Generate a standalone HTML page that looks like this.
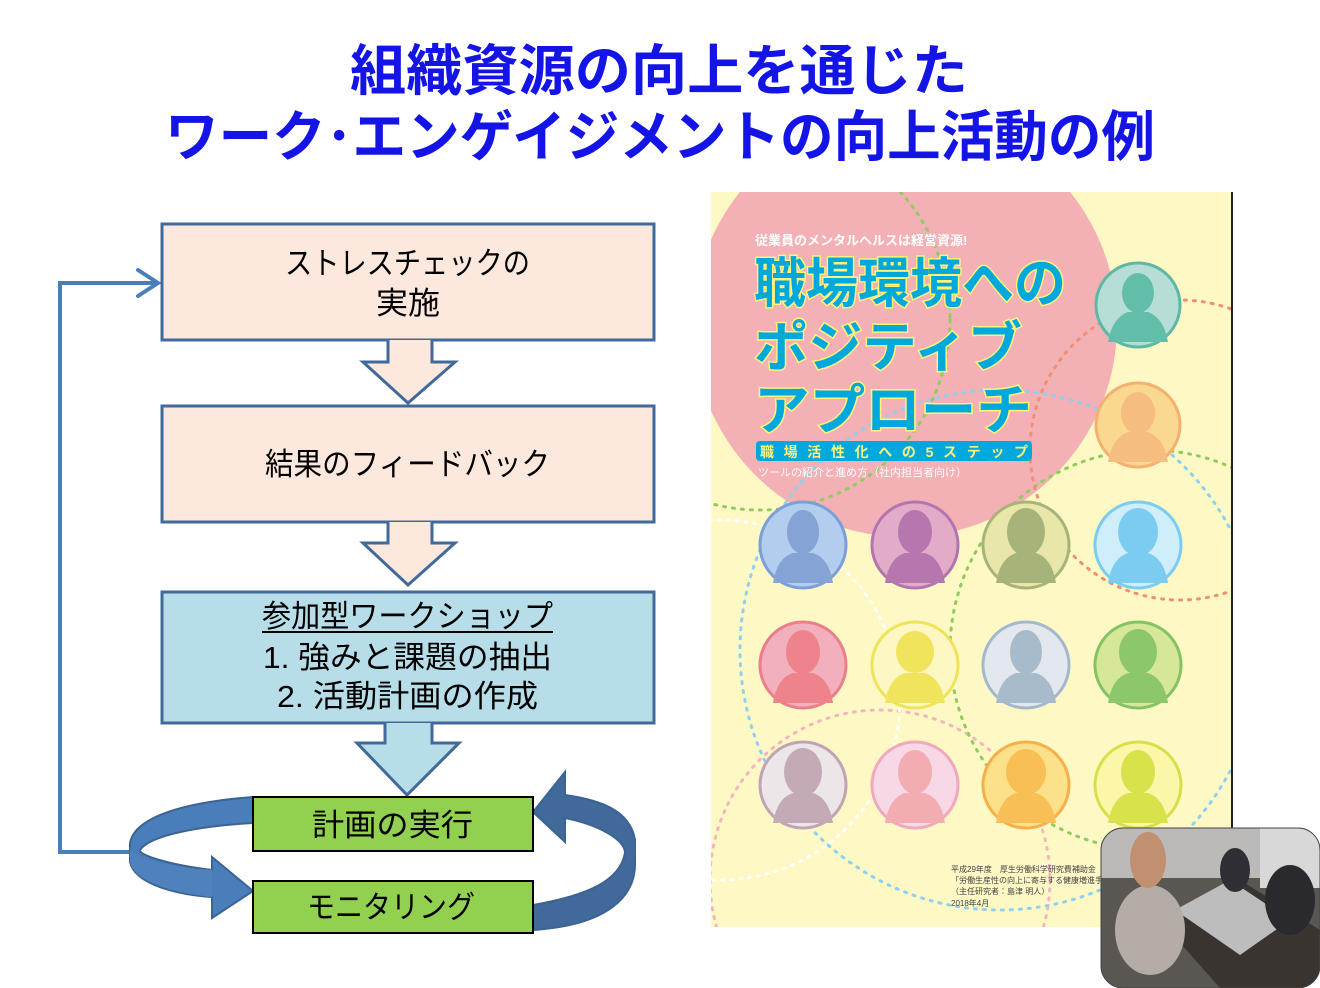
<!DOCTYPE html>
<html><head><meta charset="utf-8"><style>
html,body{margin:0;padding:0;background:#fff;overflow:hidden;width:1320px;height:988px;}
body{position:relative;font-family:"Liberation Sans","Noto Sans CJK JP",sans-serif;}
svg{display:block;}
.t{position:absolute;left:0;width:1320px;text-align:center;color:#1414e6;font-weight:bold;font-size:55px;line-height:60px;}
</style></head><body>
<svg width="1320" height="988" style="position:absolute;left:0;top:0" xmlns="http://www.w3.org/2000/svg">
<defs>
<clipPath id="cov"><rect x="711" y="192" width="521" height="735"/></clipPath>
<clipPath id="ph"><rect x="1101" y="828" width="219" height="160" rx="22"/></clipPath>
</defs>
<polyline points="132,852 60,852 60,283 158,283" fill="none" stroke="#4a7ebb" stroke-width="4"/>
<polyline points="138,270 158,283 138,296" fill="none" stroke="#4a7ebb" stroke-width="4" stroke-linecap="round"/>
<rect x="162" y="224" width="492" height="116" fill="#fce8dc" stroke="#41699a" stroke-width="3"/>
<path d="M388,340 V362 H363 L408,403 L455,362 H432 V340" fill="#fce8dc" stroke="#41699a" stroke-width="3"/>
<rect x="162" y="406" width="492" height="116" fill="#fce8dc" stroke="#41699a" stroke-width="3"/>
<path d="M388,522 V543 H363 L408,585 L455,543 H432 V522" fill="#fce8dc" stroke="#41699a" stroke-width="3"/>
<rect x="162" y="592" width="492" height="131" fill="#b7dee8" stroke="#41699a" stroke-width="3"/>
<path d="M385,723 V743 H357 L407,795 L459,743 H432 V723" fill="#b7dee8" stroke="#41699a" stroke-width="3"/>
<path d="M253,797 C150,805 128,830 130,848 L130,862 C135,885 180,895 212,897 L212,918 L253,891 L212,857 L212,870 C170,865 138,855 140,850 C150,835 200,826 253,823 Z" fill="#4a7ebb" stroke="#3a6494" stroke-width="2"/>
<path d="M130,848 C132,860 180,868 212,870 L212,897 C170,893 133,880 130,862 Z" fill="#4f81bd"/>
<path d="M533,930 C610,925 636,895 635,862 L635,840 C630,810 600,800 565,795 L565,772 L533,812 L565,842 L565,818 C600,825 625,840 625,853 C620,880 590,895 533,905 Z" fill="#41699a" stroke="#3a6494" stroke-width="2"/>
<rect x="253" y="797" width="280" height="54" fill="#92d050" stroke="#000" stroke-width="2"/>
<rect x="253" y="881" width="280" height="52" fill="#92d050" stroke="#000" stroke-width="2"/>
<g clip-path="url(#cov)">
<rect x="711" y="192" width="521" height="735" fill="#fdf8c4"/>
<circle cx="905" cy="325" r="212" fill="#f3b0b5"/>
<g fill="none" stroke-width="3" stroke-dasharray="2 7" stroke-linecap="round">
<circle cx="880" cy="880" r="170" stroke="#f2b6c0"/>
<circle cx="1000" cy="650" r="260" stroke="#8fd0f0"/>
<circle cx="1150" cy="650" r="200" stroke="#8fcc60"/>
<circle cx="760" cy="320" r="190" stroke="#8fcc60"/>
<circle cx="1180" cy="450" r="150" stroke="#f09070"/>
<circle cx="720" cy="700" r="180" stroke="#fff"/>
</g>
</g>
<line x1="1232" y1="192" x2="1232" y2="830" stroke="#222" stroke-width="2"/>
<g>
<circle cx="1138" cy="305" r="42" fill="#b7ded6" stroke="#5fb8a5" stroke-width="3"/><ellipse cx="1138" cy="293" rx="16" ry="20" fill="#63bea9"/><path d="M1108,342 Q1112,318 1128,312 L1148,312 Q1164,318 1168,342 Z" fill="#63bea9"/>
<circle cx="1138" cy="425" r="42" fill="#fbd890" stroke="#f5b070" stroke-width="3"/><ellipse cx="1138" cy="413" rx="17" ry="21" fill="#f6bd80"/><path d="M1108,462 Q1112,438 1128,432 L1148,432 Q1164,438 1168,462 Z" fill="#f6bd80"/>
<circle cx="803" cy="545" r="43" fill="#b3cdee" stroke="#7b9fd6" stroke-width="3"/><ellipse cx="803" cy="532" rx="16" ry="22" fill="#86a3d6"/><path d="M773,583 Q777,558 793,553 L813,553 Q829,558 833,583 Z" fill="#86a3d6"/>
<circle cx="915" cy="545" r="43" fill="#e2acc9" stroke="#b275b0" stroke-width="3"/><ellipse cx="915" cy="532" rx="17" ry="22" fill="#b677ae"/><path d="M885,583 Q889,558 905,553 L925,553 Q941,558 945,583 Z" fill="#b677ae"/>
<circle cx="1026" cy="545" r="43" fill="#e8e6a8" stroke="#a6b47a" stroke-width="3"/><ellipse cx="1026" cy="532" rx="19" ry="24" fill="#a6b47a"/><path d="M996,583 Q1000,558 1016,553 L1036,553 Q1052,558 1056,583 Z" fill="#a6b47a"/>
<circle cx="1138" cy="545" r="43" fill="#cdeefa" stroke="#7ccbf0" stroke-width="3"/><ellipse cx="1138" cy="532" rx="20" ry="24" fill="#7ccbf0"/><path d="M1108,583 Q1112,558 1128,553 L1148,553 Q1164,558 1168,583 Z" fill="#7ccbf0"/>
<circle cx="803" cy="665" r="43" fill="#f2b0be" stroke="#ea7f8a" stroke-width="3"/><ellipse cx="803" cy="652" rx="17" ry="22" fill="#ee838c"/><path d="M773,703 Q777,678 793,673 L813,673 Q829,678 833,703 Z" fill="#ee838c"/>
<circle cx="915" cy="665" r="43" fill="#fdf7c4" stroke="#efe35a" stroke-width="3"/><ellipse cx="915" cy="652" rx="19" ry="21" fill="#f0e45c"/><path d="M885,703 Q889,678 905,673 L925,673 Q941,678 945,703 Z" fill="#f0e45c"/>
<circle cx="1026" cy="665" r="43" fill="#e3e8ee" stroke="#a4b8cc" stroke-width="3"/><ellipse cx="1026" cy="652" rx="16" ry="22" fill="#a7bbcb"/><path d="M996,703 Q1000,678 1016,673 L1036,673 Q1052,678 1056,703 Z" fill="#a7bbcb"/>
<circle cx="1138" cy="665" r="43" fill="#d6e79a" stroke="#84c364" stroke-width="3"/><ellipse cx="1138" cy="652" rx="19" ry="23" fill="#8cc76c"/><path d="M1108,703 Q1112,678 1128,673 L1148,673 Q1164,678 1168,703 Z" fill="#8cc76c"/>
<circle cx="803" cy="785" r="43" fill="#ece6e8" stroke="#c0a4b4" stroke-width="3"/><ellipse cx="803" cy="772" rx="19" ry="24" fill="#c4aab6"/><path d="M773,823 Q777,798 793,793 L813,793 Q829,798 833,823 Z" fill="#c4aab6"/>
<circle cx="915" cy="785" r="43" fill="#f8d8e6" stroke="#f0a8bc" stroke-width="3"/><ellipse cx="915" cy="772" rx="17" ry="22" fill="#f3adb2"/><path d="M885,823 Q889,798 905,793 L925,793 Q941,798 945,823 Z" fill="#f3adb2"/>
<circle cx="1026" cy="785" r="43" fill="#fde08a" stroke="#f6b04a" stroke-width="3"/><ellipse cx="1026" cy="772" rx="20" ry="23" fill="#f8bf56"/><path d="M996,823 Q1000,798 1016,793 L1036,793 Q1052,798 1056,823 Z" fill="#f8bf56"/>
<circle cx="1138" cy="785" r="43" fill="#fbf6a8" stroke="#d6e04a" stroke-width="3"/><ellipse cx="1138" cy="772" rx="17" ry="22" fill="#d8e24a"/><path d="M1108,823 Q1112,798 1128,793 L1148,793 Q1164,798 1168,823 Z" fill="#d8e24a"/>
</g>
<g font-family="Liberation Sans, Noto Sans CJK JP, sans-serif" font-weight="bold">
<text x="755" y="245" font-size="13" fill="#fff">従業員のメンタルヘルスは経営資源!</text>
<g font-size="54" fill="#00a8dc" stroke="#fff37a" stroke-width="3" paint-order="stroke">
<text x="754" y="302" textLength="312" lengthAdjust="spacingAndGlyphs">職場環境への</text>
<text x="754" y="366" textLength="268" lengthAdjust="spacingAndGlyphs">ポジティブ</text>
<text x="754" y="429" textLength="278" lengthAdjust="spacingAndGlyphs">アプローチ</text>
</g>
<rect x="756" y="441" width="276" height="20" rx="4" fill="#00a8dc"/>
<text x="760" y="457" font-size="14" fill="#fff37a" textLength="268" lengthAdjust="spacing">職場活性化への5ステップ</text>
<text x="758" y="476" font-size="11" fill="#fff" font-weight="normal">ツールの紹介と進め方（社内担当者向け）</text>
</g>
<g font-family="Liberation Sans, Noto Sans CJK JP, sans-serif" font-size="8" fill="#444">
<text x="951" y="872">平成29年度　厚生労働科学研究費補助金</text>
<text x="951" y="883">「労働生産性の向上に寄与する健康増進手法の</text>
<text x="951" y="894">（主任研究者：島津 明人）</text>
<text x="951" y="906">2018年4月</text>
</g>
<g clip-path="url(#ph)">
<rect x="1101" y="828" width="219" height="160" fill="#5a5652"/>
<rect x="1101" y="828" width="219" height="50" fill="#bcbab8"/>
<rect x="1260" y="828" width="60" height="60" fill="#d8d8d8"/>
<polygon points="1160,920 1240,880 1320,930 1320,988 1220,988" fill="#3a3430"/>
<polygon points="1175,910 1230,880 1290,920 1240,955" fill="#bdbdbd"/>
<ellipse cx="1150" cy="930" rx="35" ry="45" fill="#b4aca6"/>
<ellipse cx="1148" cy="860" rx="18" ry="28" fill="#c09070"/>
<ellipse cx="1290" cy="900" rx="25" ry="35" fill="#2a2a2e"/>
<ellipse cx="1235" cy="870" rx="15" ry="22" fill="#2e2e34"/>
</g>
<rect x="1101" y="828" width="219" height="160" rx="22" fill="none" stroke="#444" stroke-width="1"/>
<g font-family="Liberation Sans, Noto Sans CJK JP, sans-serif" fill="#000" font-size="31">
<text x="285" y="274" textLength="245" lengthAdjust="spacingAndGlyphs">ストレスチェックの</text>
<text x="376" y="314" textLength="64" lengthAdjust="spacingAndGlyphs">実施</text>
<text x="265" y="475" textLength="285" lengthAdjust="spacingAndGlyphs">結果のフィードバック</text>
<text x="262" y="627" textLength="291" lengthAdjust="spacingAndGlyphs">参加型ワークショップ</text>
<text x="263" y="668" textLength="289" lengthAdjust="spacingAndGlyphs">1. 強みと課題の抽出</text>
<text x="277" y="707" textLength="261" lengthAdjust="spacingAndGlyphs">2. 活動計画の作成</text>
<text x="312" y="836" textLength="161" lengthAdjust="spacingAndGlyphs">計画の実行</text>
<text x="307" y="918" textLength="168" lengthAdjust="spacingAndGlyphs">モニタリング</text>
</g>
<line x1="262" y1="632" x2="553" y2="632" stroke="#000" stroke-width="2"/>
<g font-family="Liberation Sans, Noto Sans CJK JP, sans-serif" font-weight="bold" fill="#1414e6" font-size="55">
<text x="350" y="90" textLength="618" lengthAdjust="spacingAndGlyphs">組織資源の向上を通じた</text>
<text x="165" y="156" textLength="990" lengthAdjust="spacingAndGlyphs">ワーク･エンゲイジメントの向上活動の例</text>
</g>
</svg>
</body></html>
